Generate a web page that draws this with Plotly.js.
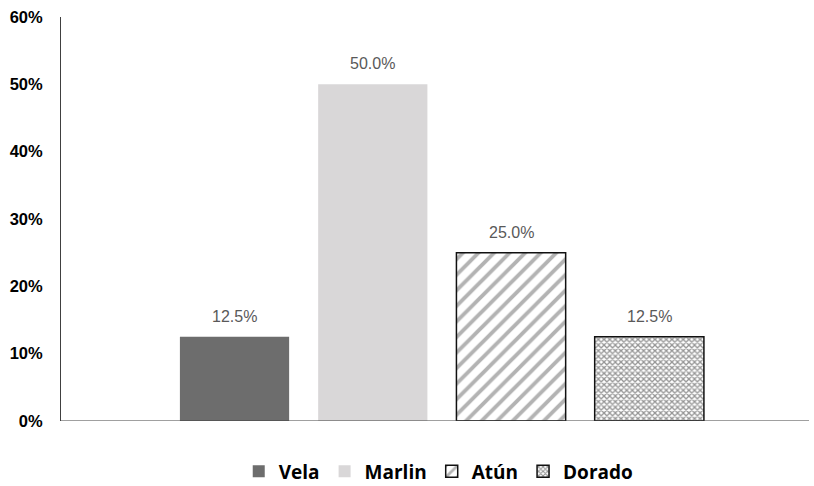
<!DOCTYPE html>
<html>
<head>
<meta charset="utf-8">
<script src="https://cdn.plot.ly/plotly-3.0.1.min.js"></script>
<style>html,body{margin:0;padding:0;background:#fff;}#chart{width:814px;height:486px;}</style>
</head>
<body>
<div id="chart"></div>
<script>
const categories = ['Vela', 'Marlin', 'Atún', 'Dorado'];
const values = [12.5, 50.0, 25.0, 12.5];
const yTicks = [0, 10, 20, 30, 40, 50, 60];

const styles = [
  {color: '#6d6d6d', line: {width: 0}},
  {color: '#d9d7d8', line: {width: 0}},
  {color: '#ffffff', line: {color: '#111111', width: 1.5},
   pattern: {shape: '/', fgcolor: '#b3b3b3', bgcolor: '#ffffff', size: 11, solidity: 0.35}},
  {color: '#ffffff', line: {color: '#111111', width: 1.5},
   pattern: {shape: 'x', fgcolor: '#959595', bgcolor: '#ffffff', size: 4, solidity: 0.55}}
];

const traces = categories.map((c, i) => ({
  type: 'bar',
  name: c,
  x: [c],
  y: [values[i]],
  width: 0.79,
  marker: styles[i],
  hoverinfo: 'skip'
}));

const annotations = categories.map((c, i) => ({
  x: c, y: values[i], xref: 'x', yref: 'y',
  text: values[i].toFixed(1) + '%',
  showarrow: false, yanchor: 'bottom', yshift: 10,
  font: {family: 'Arial, Liberation Sans, sans-serif', size: 16, color: '#595959'}
}));

const layout = {
  width: 814, height: 486,
  margin: {l: 61, r: 5, t: 17, b: 65, autoexpand: false},
  paper_bgcolor: '#ffffff', plot_bgcolor: '#ffffff',
  barmode: 'overlay',
  showlegend: true,
  legend: {orientation: 'h', x: 0.505, xanchor: 'center', y: -0.125, yanchor: 'middle',
           font: {family: 'Open Sans, sans-serif', size: 19, color: '#000', weight: 'bold'},
           itemwidth: 30, traceorder: 'normal'},
  xaxis: {range: [-1.255, 4.155], showticklabels: false, showgrid: false, zeroline: false,
          showline: false, ticks: '', fixedrange: true},
  yaxis: {range: [0, 60], tickvals: yTicks, ticktext: yTicks.map(v => v + '%'),
          showgrid: false, zeroline: false, showline: true, linecolor: '#404040', linewidth: 1,
          ticks: '', ticklabelstandoff: 14,
          tickfont: {family: 'Arial, Liberation Sans, sans-serif', size: 16.5, color: '#000', weight: 'bold'}},
  shapes: [{type: 'line', xref: 'paper', yref: 'y', x0: 0, x1: 1, y0: 0, y1: 0,
            line: {color: '#404040', width: 1}}],
  annotations: annotations
};

Plotly.newPlot('chart', traces, layout, {displayModeBar: false, staticPlot: true});
</script>
</body>
</html>
